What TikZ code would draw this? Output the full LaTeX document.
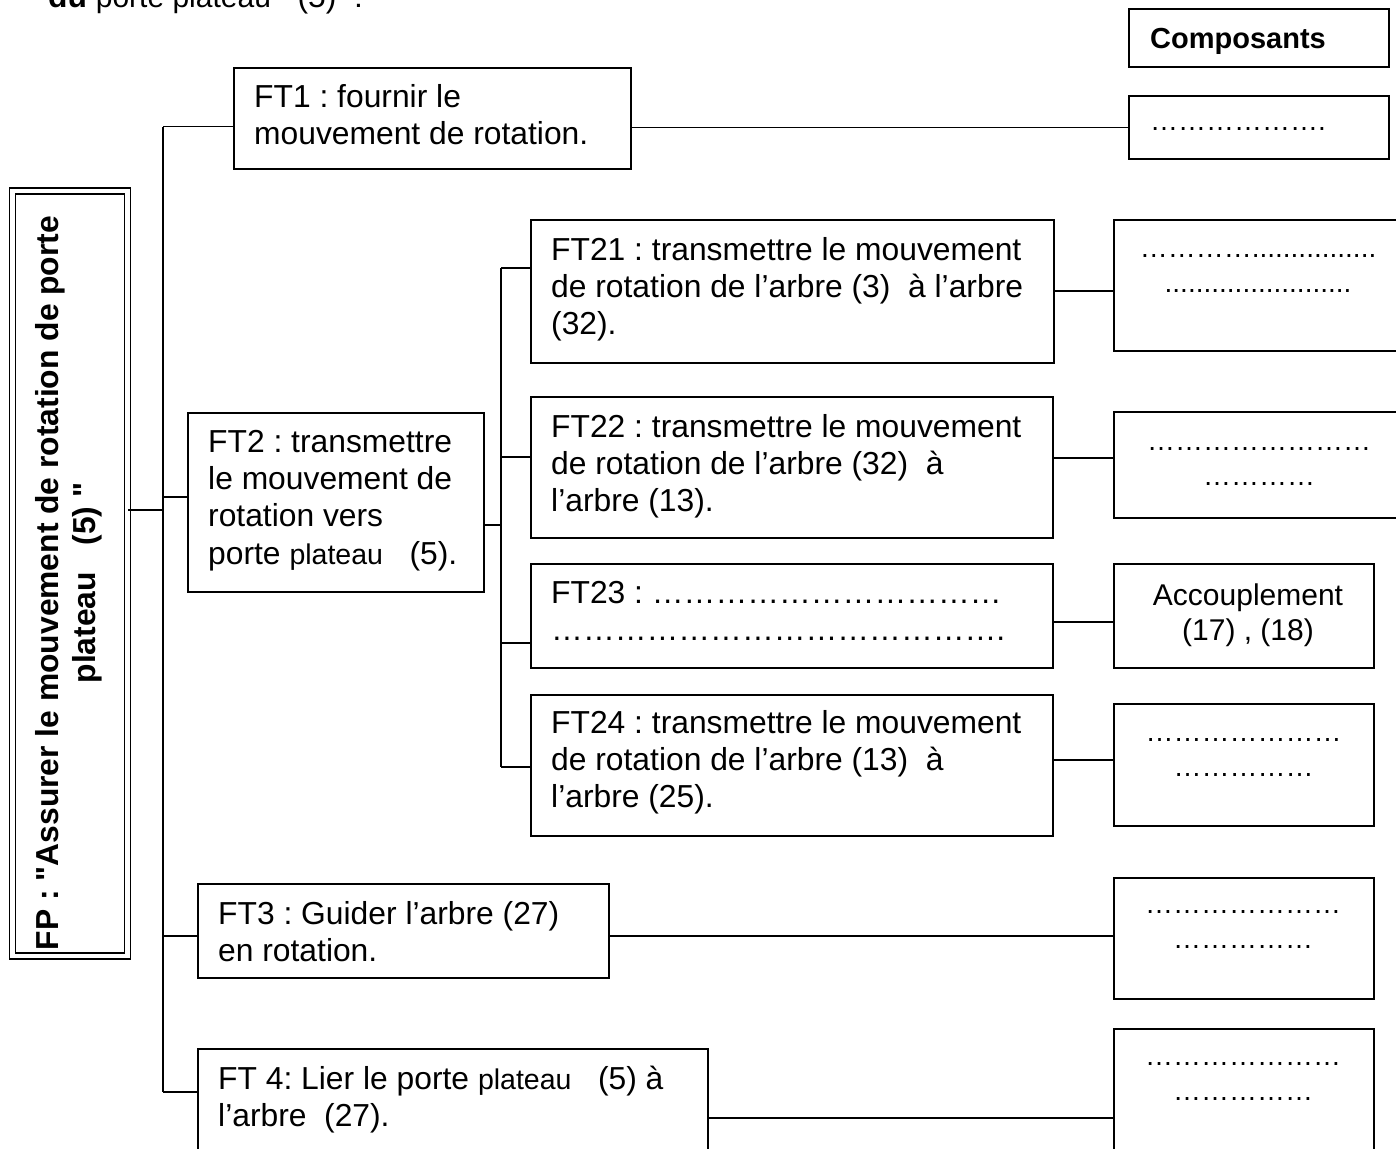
\documentclass[tikz,border=0pt]{standalone}
\usepackage{fontspec}
\setmainfont{Liberation Sans}[Ligatures=TeXOff]
\newcommand\myfn{\fontsize{31.8pt}{37.3pt}\selectfont}
\newcommand\myfp{\fontsize{28.5pt}{37.3pt}\selectfont}
\newcommand\myfd{\fontsize{28pt}{35pt}\selectfont}
\newcommand\myfa{\fontsize{30pt}{35pt}\selectfont}
\newcommand\myfc{\fontsize{29pt}{34pt}\selectfont}
\ExplSyntaxOn
\NewDocumentCommand\myrep{mm}{\prg_replicate:nn{#1}{#2}}
\ExplSyntaxOff
\frenchspacing
\begin{document}
\frenchspacing
\begin{tikzpicture}[x=1pt,y=-1pt,
  box/.style={draw, line width=1.8pt, rectangle, inner sep=0pt, anchor=north west},
  txt/.style={inner sep=0pt, align=left, anchor=north west, font=\myfn},
  dots/.style={inner sep=0pt, align=center, anchor=north, font=\myfd},
  ln/.style={line width=1.8pt}]
\useasboundingbox (0,0) rectangle (1396,1148);

% cut-off heading
\node[anchor=base west, inner sep=0pt, font=\myfn] (head) at (48,8)
  {\textbf{du} {\myfa porte plateau}~~~(5)~~:};

% boxes
\node[box, minimum width=260pt, minimum height=58pt] (comp) at (1128,8) {};
\node[box, minimum width=260pt, minimum height=63pt] (c1) at (1128,95) {};
\node[box, minimum width=397pt, minimum height=101pt] (ft1) at (233,67) {};
\node[draw, double, double distance=4.5pt, line width=1.6pt, rectangle, inner sep=0pt,
      minimum width=115pt, minimum height=765pt] (fp) at (70,573.5) {};
\node[box, minimum width=296pt, minimum height=179pt] (ft2) at (187,412) {};
\node[box, minimum width=523pt, minimum height=143pt] (ft21) at (530,219) {};
\node[box, minimum width=292pt, minimum height=131pt] (c21) at (1113,219) {};
\node[box, minimum width=522pt, minimum height=141pt] (ft22) at (530,396) {};
\node[box, minimum width=292pt, minimum height=106pt] (c22) at (1113,411) {};
\node[box, minimum width=522pt, minimum height=104pt] (ft23) at (530,563) {};
\node[box, minimum width=260pt, minimum height=104pt] (c23) at (1113,563) {};
\node[box, minimum width=522pt, minimum height=141pt] (ft24) at (530,694) {};
\node[box, minimum width=260pt, minimum height=122pt] (c24) at (1113,703) {};
\node[box, minimum width=411pt, minimum height=94pt] (ft3) at (197,883) {};
\node[box, minimum width=260pt, minimum height=121pt] (c3) at (1113,877) {};
\node[box, minimum width=510pt, minimum height=110pt] (ft4) at (197,1048) {};
\node[box, minimum width=260pt, minimum height=130pt] (c4) at (1113,1028) {};

% texts
\node[txt, font=\myfc\bfseries] (compt) at (1150,24.2) {\strut Composants};
\node[txt, font=\myfd] (c1t) at (1150,105.5) {\strut \myrep{6}{…}.};
\node[txt] (ft1t) at (254,80.9) {\strut FT1 : fournir le\\\strut mouvement de rotation.};
\node[font=\myfn\bfseries, align=center, rotate=90, inner sep=0pt] (fpt) at (69,583)
  {FP : "Assurer le mouvement de rotation de porte\\plateau~~~(5) "};
\node[txt] (ft2t) at (208,425.9) {\strut FT2 : transmettre\\\strut le mouvement de\\\strut rotation vers\\\strut porte {\myfp plateau}~~~(5).};
\node[txt] (ft21t) at (551,233.9) {\strut FT21 : transmettre le mouvement\\\strut de rotation de l’arbre (3)~~à l’arbre\\\strut (32).};
\node[txt] (ft22t) at (551,410.9) {\strut FT22 : transmettre le mouvement\\\strut de rotation de l’arbre (32)~~à\\\strut l’arbre (13).};
\node[txt] (ft23t) at (551,576.9) {\strut FT23 : \myrep{11}{…}\\\strut \myrep{14}{…}.};
\node[txt] (ft24t) at (551,707) {\strut FT24 : transmettre le mouvement\\\strut de rotation de l’arbre (13)~~à\\\strut l’arbre (25).};
\node[txt] (ft3t) at (218,898) {\strut FT3 : Guider l’arbre (27)\\\strut en rotation.};
\node[txt] (ft4t) at (218,1063) {\strut FT 4: Lier le porte {\myfp plateau}~~~(5) à\\\strut l’arbre~~(27).};

\node[dots] (c21t) at (1258,232.5) {\strut \myrep{4}{…}\myrep{16}{.}\\\strut \myrep{24}{.}};
\node[dots] (c22t) at (1259,425.5) {\strut \myrep{8}{…}\\\strut \myrep{4}{…}};
\node[dots, font=\myfa] (c23t) at (1248,580.5) {\strut Accouplement\\\strut (17) , (18)};
\node[dots] (c24t) at (1243.5,716.5) {\strut \myrep{7}{…}\\\strut \myrep{5}{…}};
\node[dots] (c3t) at (1243,888.5) {\strut \myrep{7}{…}\\\strut \myrep{5}{…}};
\node[dots] (c4t) at (1243,1040.5) {\strut \myrep{7}{…}\\\strut \myrep{5}{…}};

% main trunk
\coordinate (ta) at (163,126.5);
\coordinate (tfp) at (163,510);
\coordinate (t2) at (163,497);
\coordinate (t3) at (163,936);
\coordinate (tb) at (163,1092);
\draw[ln] (ta) -- (tb);
\draw[ln] (tfp -| fp.east) -- (tfp);
\draw[ln] (ta) -- (ta -| ft1.west);
\draw[ln] (t2) -- (t2 -| ft2.west);
\draw[ln] (t3) -- (t3 -| ft3.west);
\draw[ln] (tb) -- (tb -| ft4.west);

% second trunk
\coordinate (sa) at (501,268);
\coordinate (s2) at (501,525);
\coordinate (s22) at (501,457);
\coordinate (s23) at (501,643);
\coordinate (sb) at (501,767);
\draw[ln] (sa) -- (sb);
\draw[ln] (s2 -| ft2.east) -- (s2);
\draw[ln] (sa) -- (sa -| ft21.west);
\draw[ln] (s22) -- (s22 -| ft22.west);
\draw[ln] (s23) -- (s23 -| ft23.west);
\draw[ln] (sb) -- (sb -| ft24.west);

% to components
\coordinate (r21) at (1113,291);
\coordinate (r22) at (1113,458);
\coordinate (r23) at (1113,622);
\coordinate (r24) at (1113,760);
\coordinate (r3) at (1113,936);
\coordinate (r4) at (1113,1118);
\draw[ln] (c1.west -| ft1.east) -- (c1.west);
\draw[ln] (r21 -| ft21.east) -- (r21 -| c21.west);
\draw[ln] (r22 -| ft22.east) -- (r22 -| c22.west);
\draw[ln] (r23 -| ft23.east) -- (r23 -| c23.west);
\draw[ln] (r24 -| ft24.east) -- (r24 -| c24.west);
\draw[ln] (r3 -| ft3.east) -- (r3 -| c3.west);
\draw[ln] (r4 -| ft4.east) -- (r4 -| c4.west);
\end{tikzpicture}
\end{document}
